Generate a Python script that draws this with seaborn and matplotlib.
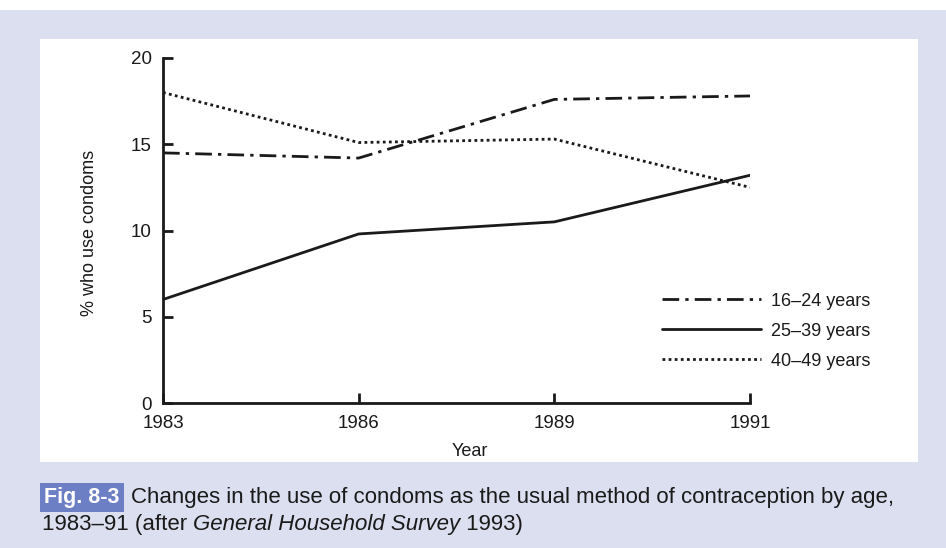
import matplotlib
matplotlib.use("Agg")
import matplotlib.pyplot as plt
from matplotlib.patches import Rectangle
import pandas as pd
import seaborn as sns

# Survey years (evenly spaced on the axis) and condom use by age group (%)
years = ["1983", "1986", "1989", "1991"]
age_16_24 = [14.5, 14.2, 17.6, 17.8]
age_25_39 = [6.0, 9.8, 10.5, 13.2]
age_40_49 = [18.0, 15.1, 15.3, 12.5]
groups = ["16–24 years", "25–39 years", "40–49 years"]
y_ticks = [0, 5, 10, 15, 20]

df = pd.DataFrame({
    "pos": list(range(len(years))) * 3,
    "value": age_16_24 + age_25_39 + age_40_49,
    "group": [g for g in groups for _ in years],
})

sns.set_theme(style="white")
plt.rcParams["font.family"] = ["Liberation Sans", "DejaVu Sans"]

ink = "#1a1a1a"
lavender = "#dcdff0"
W, H = 946, 548
fig = plt.figure(figsize=(W / 100, H / 100), dpi=100)
fig.patch.set_facecolor("white")

# page background band and white chart panel
fig.add_artist(Rectangle((0, 0), 1, 1 - 10 / H, transform=fig.transFigure,
                         facecolor=lavender, edgecolor="none", zorder=-3))
fig.add_artist(Rectangle((40 / W, 1 - 462 / H), 878 / W, 423 / H,
                         transform=fig.transFigure, facecolor="white",
                         edgecolor="none", zorder=-2))

ax_w, ax_h = 750 - 163, 403 - 58
ax = fig.add_axes([163 / W, 1 - 403 / H, ax_w / W, ax_h / H])
ax.set_facecolor("none")

dash_map = {
    groups[0]: (6, 2.2, 1.2, 2.2),
    groups[1]: "",
    groups[2]: (1.0, 1.2),
}
sns.lineplot(data=df, x="pos", y="value", style="group", dashes=dash_map,
             color=ink, linewidth=2.0, ax=ax, legend=False)

ax.set_xlim(0, len(years) - 1)
ax.set_ylim(0, 20)
ax.set_xticks(range(len(years)))
ax.set_xticklabels(years)
ax.set_yticks(y_ticks)
ax.set_yticklabels([str(t) for t in y_ticks])

for s in ["top", "right"]:
    ax.spines[s].set_visible(False)
for s in ["left", "bottom"]:
    ax.spines[s].set_color(ink)
    ax.spines[s].set_linewidth(2.0)

ax.tick_params(axis="both", direction="in", length=7, width=2.0,
               color=ink, labelsize=13.5, labelcolor=ink)
ax.tick_params(axis="y", pad=8, left=True)
ax.tick_params(axis="x", pad=9, bottom=True)
for lbl in ax.get_yticklabels():
    lbl.set_va("center_baseline")

ax.set_xlabel("Year", fontsize=13, color=ink)
ax.xaxis.set_label_coords((470 - 163) / ax_w, -(460 - 403) / ax_h)
ax.xaxis.label.set_va("bottom")
ax.set_ylabel("% who use condoms", fontsize=13, color=ink)
ax.yaxis.set_label_coords(-(163 - 90) / ax_w, (403 - 233) / ax_h)
ax.yaxis.label.set_va("center")

# legend built from the plotted lines
handles = ax.get_lines()[:3]
leg = ax.legend(handles, groups, loc="center left",
                bbox_to_anchor=((662 - 163) / ax_w, (403 - 331) / ax_h),
                frameon=False, fontsize=13, handlelength=5.5,
                handletextpad=0.55, labelspacing=0.72, borderaxespad=0,
                borderpad=0)
for t in leg.get_texts():
    t.set_color(ink)

# caption
cap = dict(fontsize=16, color=ink, va="baseline", ha="left")
fig.text(44 / W, 1 - 503 / H, "Fig. 8-3", fontsize=15.5, fontweight="bold",
         color="white", va="baseline", ha="left",
         bbox=dict(boxstyle="square,pad=0.2", facecolor="#6d7fc4", edgecolor="none"))
fig.text(131 / W, 1 - 503 / H,
         "Changes in the use of condoms as the usual method of contraception by age,",
         **cap)

# second caption line: roman / italic / roman runs placed side by side
renderer = fig.canvas.get_renderer()
x_px = 42
runs = [("1983–91 (after ", "normal"), ("General Household Survey", "italic"),
        (" 1993)", "normal")]
for txt, style in runs:
    t = fig.text(x_px / W, 1 - 530 / H, txt, style=style, **cap)
    x_px += t.get_window_extent(renderer).width

fig.savefig("out.png", dpi=100, facecolor=fig.get_facecolor())
